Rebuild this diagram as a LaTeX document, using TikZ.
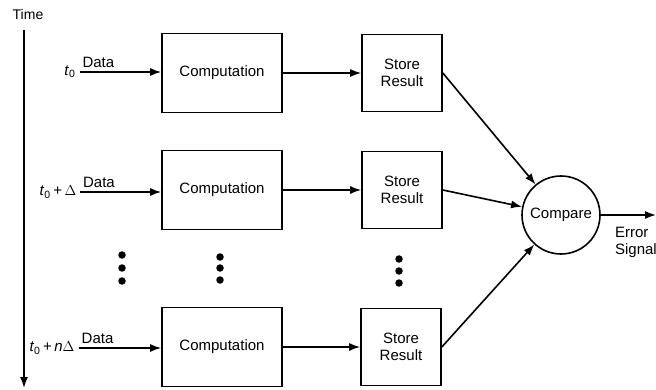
\documentclass[tikz,border=0pt]{standalone}
\usepackage{fontspec}
\setmainfont{Liberation Sans}
\usetikzlibrary{arrows.meta,positioning,calc}

\begin{document}
\begin{tikzpicture}[x=1pt,y=-1pt,font=\fontsize{15}{17}\selectfont,>={Latex[length=11pt,width=8pt]},line width=1.6pt,
  comp/.style={draw,minimum width=120pt,minimum height=79pt,align=center},
  store/.style={draw,minimum width=80pt,minimum height=77pt,align=center},
  cmp/.style={draw,circle,minimum size=78pt,inner sep=0pt},
  blob/.style={fill,circle,inner sep=0pt,minimum size=7.5pt}]
\useasboundingbox (0,0) rectangle (656,390);
% time axis
\node[font=\fontsize{14}{16}\selectfont] (time) at (28,14) {Time};
\coordinate (ttop) at (24,30);
\coordinate (tbot) at (24,388);
\draw[->] (ttop) -- (tbot);
% time labels
\node (l1) at (70,72)  {\textit{t}\textsubscript{0}};
\node (l2) at (58,192) {\textit{t}\textsubscript{0}\,+\,$\Delta$};
\node (l3) at (52,348) {\textit{t}\textsubscript{0}\,+\,\textit{n}$\Delta$};
% rows
\node[comp]  (c1) at (222,73)  {Computation};
\node[comp]  (c2) at (222,190) {Computation};
\node[comp]  (c3) at (222,347) {Computation};
\node[store] (s1) at (402,73)  {Store\\Result};
\node[store] (s2) at (402,190) {Store\\Result};
\node[store] (s3) at (401,347) {Store\\Result};
\node[cmp]   (cp) at (561,215) {Compare};
\draw[->] (l1) -- (l1 -| c1.west) node[pos=0.23,above]{Data};
\draw[->] (l2) -- (l2 -| c2.west) node[pos=0.23,above]{Data};
\draw[->] (l3) -- (l3 -| c3.west) node[pos=0.23,above]{Data};
\draw[->] (c1) -- (s1);
\draw[->] (c2) -- (s2);
\draw[->] (c3) -- (s3);
\draw[->] (s1.east) -- (cp);
\draw[->] (s2.east) -- (cp);
\draw[->] (s3.east) -- (cp);
% output
\coordinate (out) at (656,215);
\draw[->] (cp) -- (out);
\node[anchor=north west,align=left] (err) at (611,223) {Error\\Signal};
% ellipsis dots
\node[blob] (a1) at (122,255) {}; \node[blob] (a2) at (122,268) {}; \node[blob] (a3) at (122,281) {};
\node[blob] (b1) at (220,257) {}; \node[blob] (b2) at (220,268) {}; \node[blob] (b3) at (220,280) {};
\node[blob] (e1) at (399,259) {}; \node[blob] (e2) at (399,271) {}; \node[blob] (e3) at (399,283) {};
\end{tikzpicture}
\end{document}
